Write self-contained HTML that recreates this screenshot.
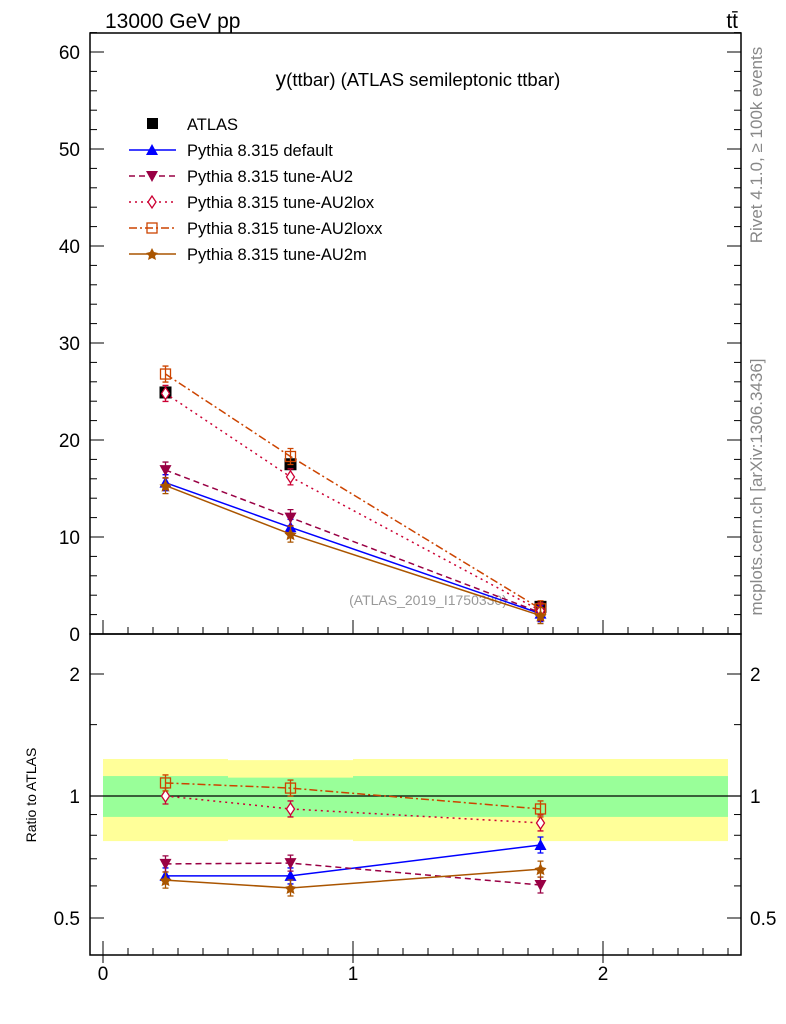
<!DOCTYPE html>
<html><head><meta charset="utf-8"><style>
html,body{margin:0;padding:0;background:#fff;}
svg{display:block;font-family:"Liberation Sans",sans-serif;}
</style></head><body>
<svg id="c" width="786" height="1024" viewBox="0 0 786 1024" xmlns="http://www.w3.org/2000/svg">
<text x="105" y="28" font-size="21">13000 GeV pp</text>
<text x="738" y="28" font-size="21" text-anchor="end">tt̄</text>
<text x="418" y="86" font-size="18.5" text-anchor="middle"><tspan font-size="21">y</tspan>(ttbar) (ATLAS semileptonic ttbar)</text>
<text transform="translate(762,145) rotate(-90)" font-size="17" fill="#888" text-anchor="middle">Rivet 4.1.0, ≥ 100k events</text>
<text transform="translate(762,487) rotate(-90)" font-size="17" fill="#888" text-anchor="middle">mcplots.cern.ch [arXiv:1306.3436]</text>
<text x="428" y="605" font-size="14" fill="#999" text-anchor="middle">(ATLAS_2019_I1750330)</text>
<text transform="translate(36,795) rotate(-90)" font-size="14" text-anchor="middle">Ratio to ATLAS</text>
<g id="bands"></g>
<g id="axes"></g>
<g id="series"></g>
<g id="legend"></g>
</svg>
<script>
const binLo=[0,0.5,1.0];
const binHi=[0.5,1.0,2.5];
const xCenters=[0.25,0.75,1.75];
const dataVals=[24.9,17.5,2.8];
const yellowLo=[0.774,0.78,0.774];
const yellowHi=[1.234,1.226,1.234];
const greenLo=[0.888,0.888,0.888];
const greenHi=[1.12,1.11,1.12];
const seriesNames=["Pythia 8.315 default","Pythia 8.315 tune-AU2","Pythia 8.315 tune-AU2lox","Pythia 8.315 tune-AU2loxx","Pythia 8.315 tune-AU2m"];
const mcDefault=[15.6,11.0,2.1];
const mcAU2=[16.9,12.0,2.2];
const mcAU2lox=[24.8,16.2,2.4];
const mcAU2loxx=[26.8,18.3,2.6];
const mcAU2m=[15.3,10.3,1.9];
const ratioDefault=[0.635,0.635,0.757];
const ratioAU2=[0.68,0.683,0.603];
const ratioAU2lox=[1.0,0.929,0.858];
const ratioAU2loxx=[1.077,1.046,0.929];
const ratioAU2m=[0.62,0.593,0.66];
const mainTicks=[0,10,20,30,40,50,60];
const ratioTicks=[0.5,1,2];
const xTicks=[0,1,2];

const NS="http://www.w3.org/2000/svg";
const L=90,R=741,T=33,MB=634,RB=955;
const xm=v=>103+v*250;
const ym=v=>634-v*9.7;
const ry=r=>796-122*Math.log2(r);
function mk(tag,attrs,parent){const e=document.createElementNS(NS,tag);for(const k in attrs)e.setAttribute(k,attrs[k]);parent.appendChild(e);return e;}
const bands=document.getElementById('bands'),axes=document.getElementById('axes'),ser=document.getElementById('series'),leg=document.getElementById('legend');

for(let i=0;i<binLo.length;i++){
  const y=mk('rect',{x:xm(binLo[i]),y:ry(yellowHi[i]),width:xm(binHi[i])-xm(binLo[i]),height:ry(yellowLo[i])-ry(yellowHi[i]),fill:'#ffff99'},bands);
  
  
  const g=mk('rect',{x:xm(binLo[i]),y:ry(greenHi[i]),width:xm(binHi[i])-xm(binLo[i]),height:ry(greenLo[i])-ry(greenHi[i]),fill:'#99ff99'},bands);
  
  
}
const f1=mk('rect',{x:L,y:T,width:R-L,height:MB-T,fill:'none',stroke:'#000','stroke-width':1.5},axes);


const f2=mk('rect',{x:L,y:MB,width:R-L,height:RB-MB,fill:'none',stroke:'#000','stroke-width':1.5},axes);


const one=mk('line',{x1:L,x2:R,y1:ry(1),y2:ry(1),stroke:'#000','stroke-width':1.2},axes);


for(let v=0;v<=62;v+=2){const big=v%10===0;const len=big?14:7;
  mk('line',{x1:L,x2:L+len,y1:ym(v),y2:ym(v),stroke:'#000'},axes);
  mk('line',{x1:R,x2:R-len,y1:ym(v),y2:ym(v),stroke:'#000'},axes);}
mainTicks.forEach(v=>{const t=mk('text',{x:80,y:ym(v)+7,'font-size':19,'text-anchor':'end'},axes);t.textContent=v;
  
  });
[0.5,0.6,0.7,0.8,0.9,1,1.5,2].forEach(v=>{const big=ratioTicks.includes(v);const len=big?14:7;
  mk('line',{x1:L,x2:L+len,y1:ry(v),y2:ry(v),stroke:'#000'},axes);
  mk('line',{x1:R,x2:R-len,y1:ry(v),y2:ry(v),stroke:'#000'},axes);});
ratioTicks.forEach(v=>{
  const t=mk('text',{x:80,y:ry(v)+7,'font-size':19,'text-anchor':'end'},axes);t.textContent=v;
  
  
  const t2=mk('text',{x:750,y:ry(v)+7,'font-size':19},axes);t2.textContent=v;
  
  });
for(let k=0;k<=25;k++){const v=k/10;const big=k%10===0;const len=big?14:7;
  [MB,RB].forEach(b=>{mk('line',{x1:xm(v),x2:xm(v),y1:b,y2:b-len,stroke:'#000'},axes);});
  if(big)mk('line',{x1:xm(v),x2:xm(v),y1:RB,y2:RB+8,stroke:'#000'},axes);}
xTicks.forEach(v=>{const t=mk('text',{x:xm(v),y:980,'font-size':19,'text-anchor':'middle'},axes);t.textContent=v;
  
  });

const styles=[
 {c:'#0000ff',d:'',m:'tri'},
 {c:'#990044',d:'6,4',m:'tridown'},
 {c:'#cc0033',d:'2,4,2,4',m:'diamond'},
 {c:'#cc4400',d:'8,3,2,3',m:'square'},
 {c:'#aa5500',d:'',m:'star'}];
const mains=[mcDefault,mcAU2,mcAU2lox,mcAU2loxx,mcAU2m];
const ratios=[ratioDefault,ratioAU2,ratioAU2lox,ratioAU2loxx,ratioAU2m];
function marker(type,x,y,c,p){
  if(type==='tri')return mk('polygon',{points:`${x},${y-6} ${x-6},${y+5} ${x+6},${y+5}`,fill:c},p);
  if(type==='tridown')return mk('polygon',{points:`${x},${y+6} ${x-6},${y-5} ${x+6},${y-5}`,fill:c},p);
  if(type==='diamond')return mk('polygon',{points:`${x},${y-6} ${x-4},${y} ${x},${y+6} ${x+4},${y}`,fill:'#fff',stroke:c,'stroke-width':1.3},p);
  if(type==='square')return mk('rect',{x:x-5,y:y-5,width:10,height:10,fill:'none',stroke:c,'stroke-width':1.3},p);
  if(type==='star')return mk('polygon',{points:`${x},${y-6} ${x+2},${y-2} ${x+6},${y-1} ${x+3},${y+2} ${x+4},${y+6} ${x},${y+4} ${x-4},${y+6} ${x-3},${y+2} ${x-6},${y-1} ${x-2},${y-2}`,fill:c},p);
}
dataVals.forEach((v,i)=>{const r=mk('rect',{x:xm(xCenters[i])-6,y:ym(v)-6,width:12,height:12,fill:'#000'},ser);
  
  });
styles.forEach((s,k)=>{
  [[mains[k],ym],[ratios[k],ry]].forEach(([arr,f],pi)=>{
    const pts=arr.map((v,i)=>xm(xCenters[i])+','+f(v)).join(' ');
    const pl=mk('polyline',{points:pts,fill:'none',stroke:s.c,'stroke-width':1.5,'stroke-dasharray':s.d},ser);
    
    
    arr.forEach((v,i)=>{const x=xm(xCenters[i]),y=f(v);
      const eb=mk('path',{d:`M${x-3},${y-8}H${x+3}M${x},${y-8}V${y+8}M${x-3},${y+8}H${x+3}`,stroke:s.c,'stroke-width':1.3,fill:'none'},ser);
      
      
      const m=marker(s.m,x,y,s.c,ser);
      
      });
  });
});
const ly0=124,ldy=26;
const lm=mk('rect',{x:147,y:ly0-6,width:11,height:11,fill:'#000'},leg);


const lt=mk('text',{x:187,y:ly0+6,'font-size':16.5},leg);lt.textContent='ATLAS';


styles.forEach((s,k)=>{const y=ly0+ldy*(k+1);
  const ln=mk('line',{x1:129,x2:176,y1:y,y2:y,stroke:s.c,'stroke-width':1.5,'stroke-dasharray':s.d},leg);
  
  
  marker(s.m,152,y,s.c,leg);
  const t=mk('text',{x:187,y:y+6,'font-size':16.5},leg);t.textContent=seriesNames[k];
  
  });
</script>
</body></html>
